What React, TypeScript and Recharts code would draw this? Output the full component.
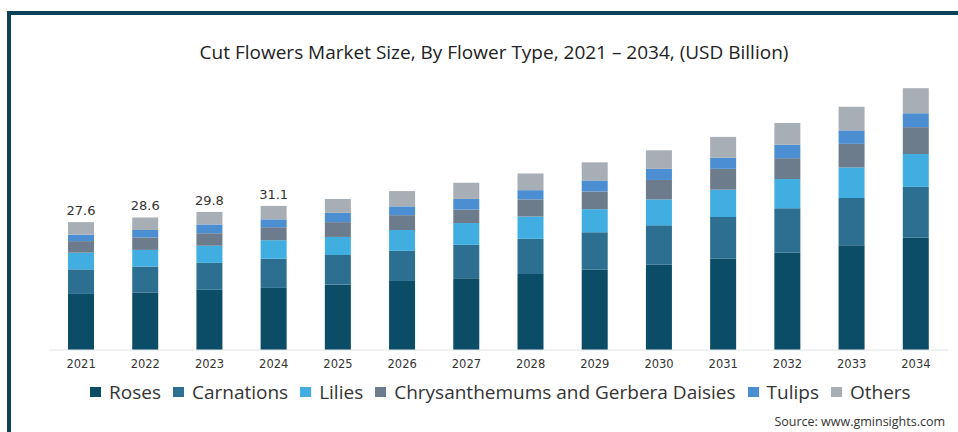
import { BarChart, Bar, XAxis, YAxis, LabelList } from 'recharts'

const years = ['2021', '2022', '2023', '2024', '2025', '2026', '2027', '2028', '2029', '2030', '2031', '2032', '2033', '2034']
const roses = [12.1, 12.4, 13.0, 13.4, 14.1, 14.9, 15.5, 16.4, 17.3, 18.4, 19.7, 21.0, 22.6, 24.2]
const carnations = [5.3, 5.6, 5.8, 6.3, 6.4, 6.5, 7.2, 7.6, 8.1, 8.5, 9.0, 9.6, 10.2, 11.0]
const lilies = [3.6, 3.6, 3.7, 4.0, 3.9, 4.5, 4.7, 4.8, 5.0, 5.6, 5.9, 6.3, 6.6, 7.1]
const chrysanthemums = [2.5, 2.7, 2.7, 2.8, 3.2, 3.2, 2.9, 3.7, 3.8, 4.2, 4.5, 4.5, 5.1, 5.8]
const tulips = [1.4, 1.6, 1.9, 1.7, 2.0, 1.9, 2.3, 2.0, 2.4, 2.4, 2.4, 2.9, 2.9, 3.0]
const others = [2.7, 2.7, 2.7, 2.9, 3.0, 3.3, 3.5, 3.6, 3.9, 4.0, 4.5, 4.7, 5.1, 5.4]
const totalLabels = ['27.6', '28.6', '29.8', '31.1']

const series = [
  { key: 'roses', name: 'Roses', color: '#0b4c66' },
  { key: 'carnations', name: 'Carnations', color: '#2c6f90' },
  { key: 'lilies', name: 'Lilies', color: '#40aee0' },
  { key: 'chrysanthemums', name: 'Chrysanthemums and Gerbera Daisies', color: '#6d7c8c' },
  { key: 'tulips', name: 'Tulips', color: '#4b8fd2' },
  { key: 'others', name: 'Others', color: '#a8aeb5' },
]

const data = years.map((year, i) => ({
  year,
  roses: roses[i],
  carnations: carnations[i],
  lilies: lilies[i],
  chrysanthemums: chrysanthemums[i],
  tulips: tulips[i],
  others: others[i],
}))

function TotalLabel(props: any) {
  const { x, y, width, index } = props
  if (index >= totalLabels.length) return null
  return (
    <text
      x={x + width / 2}
      y={y - 7}
      textAnchor="middle"
      fill="#333"
      fontSize={13}
      fontFamily="DejaVu Sans"
    >
      {totalLabels[index]}
    </text>
  )
}

export default function App() {
  return (
    <div
      style={{
        position: 'absolute',
        left: 0,
        top: 0,
        width: 958,
        height: 432,
        background: '#fff',
        overflow: 'hidden',
        fontFamily: 'Open Sans',
      }}
    >
      {/* frame */}
      <div
        style={{
          position: 'absolute',
          left: 7,
          top: 11,
          width: 1000,
          height: 500,
          borderTop: '4px solid #0c4257',
          borderLeft: '4px solid #0c4257',
        }}
      />

      <div
        style={{
          position: 'absolute',
          left: 494,
          top: 39,
          transform: 'translateX(-50%)',
          whiteSpace: 'nowrap',
          fontSize: 19,
          color: '#222',
        }}
      >
        Cut Flowers Market Size, By Flower Type, 2021 – 2034, (USD Billion)
      </div>

      <div style={{ position: 'absolute', left: 0, top: 0 }}>
        <BarChart
          width={958}
          height={432}
          data={data}
          margin={{ top: 72, right: 10, bottom: 52, left: 49 }}
          barSize={26}
        >
          <XAxis
            dataKey="year"
            axisLine={{ stroke: '#e2e4e6' }}
            tickLine={false}
            tickMargin={4}
            tick={{ fill: '#333', fontSize: 11.5, fontFamily: 'DejaVu Sans' }}
          />
          <YAxis hide domain={[0, 60]} />
          {series.map((s) => (
            <Bar key={s.key} dataKey={s.key} name={s.name} stackId="a" fill={s.color} isAnimationActive={false}>
              {s.key === 'others' && <LabelList dataKey="others" content={<TotalLabel />} />}
            </Bar>
          ))}
        </BarChart>
      </div>

      <div
        style={{
          position: 'absolute',
          left: 90,
          top: 379,
          display: 'flex',
          alignItems: 'center',
          whiteSpace: 'nowrap',
          fontSize: 19,
          color: '#333',
        }}
      >
        {series.map((s) => (
          <div key={s.key} style={{ display: 'flex', alignItems: 'center', marginRight: 12 }}>
            <span style={{ width: 11, height: 10, background: s.color, marginRight: 8, display: 'inline-block' }} />
            <span>{s.name}</span>
          </div>
        ))}
      </div>

      <div
        style={{
          position: 'absolute',
          right: 13,
          top: 413,
          fontSize: 12.5,
          color: '#333',
          whiteSpace: 'nowrap',
        }}
      >
        Source: www.gminsights.com
      </div>
    </div>
  )
}
